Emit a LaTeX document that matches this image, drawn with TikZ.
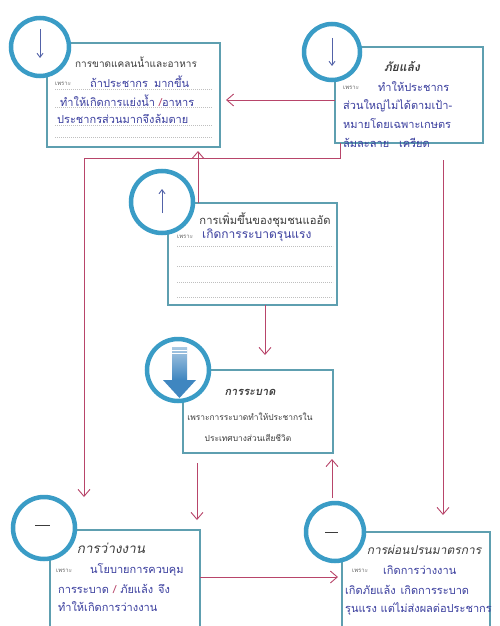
\documentclass[tikz,border=0pt]{standalone}
\usepackage{fontspec}
\usetikzlibrary{arrows.meta,calc}
\newfontfamily\thai[Script=Thai]{Loma}
\newfontfamily\thaisl[Script=Thai,FakeSlant=0.2]{Loma}
\definecolor{ringc}{HTML}{3A9CC6}
\definecolor{boxc}{HTML}{5E9FB0}
\definecolor{conc}{HTML}{B8456A}
\definecolor{handc}{HTML}{3A3E9E}
\definecolor{printc}{HTML}{3C3C3C}
\definecolor{iconc}{HTML}{5262A8}
\definecolor{arrowfill}{HTML}{3F86C0}
\tikzset{
  box/.style={draw=boxc, line width=2.2pt, fill=white, anchor=north west, inner sep=0pt, outer sep=0pt},
  ring/.style={circle, draw=ringc, line width=4.5pt, fill=white, inner sep=0pt, outer sep=0pt, minimum size=58pt},
  conn/.style={draw=conc, line width=0.9pt},
  arr/.style={-{Straight Barb[length=7pt,width=12pt]}},
  title/.style={font=\thai\fontsize{10}{11}\selectfont, text=printc, inner sep=0pt},
  ititle/.style={font=\thaisl\bfseries\fontsize{12}{13}\selectfont, text=printc, inner sep=0pt},
  stitle/.style={font=\thaisl\fontsize{12}{13}\selectfont, text=printc, inner sep=0pt},
  because/.style={font=\thai\fontsize{6}{7}\selectfont, text=printc!80, inner sep=0pt, anchor=west},
  hand/.style={font=\thai\fontsize{11}{12}\selectfont, text=handc, inner sep=0pt, anchor=west},
  printed/.style={font=\thai\fontsize{8.4}{9}\selectfont, text=printc, inner sep=0pt},
  dots/.style={draw=gray!50, line width=0.5pt, dash pattern=on 0.8pt off 1.2pt},
  icon/.style={draw=iconc, line width=0.9pt},
  dash icon/.style={draw=printc, line width=1pt}
}
\begin{document}
\begin{tikzpicture}[x=1pt,y=-1pt]
\useasboundingbox (0,0) rectangle (500,626);
\fill[white] (0,0) rectangle (500,626);
\clip (0,0) rectangle (500,626);

% boxes
\node[box, minimum width=173pt, minimum height=104pt] (b1) at (47,43) {};
\node[box, minimum width=148pt, minimum height=96pt] (b2) at (335,47) {};
\node[box, minimum width=169pt, minimum height=102pt] (b3) at (168,203) {};
\node[box, minimum width=150pt, minimum height=83pt] (b4) at (183,370) {};
\node[box, minimum width=150pt, minimum height=100pt] (b5) at (50,530) {};
\node[box, minimum width=148pt, minimum height=100pt] (b6) at (342,532) {};

% dotted writing lines
\draw[dots] ($(b1.north west)+(8,46)$) -- ($(b1.north east)+(-8,46)$);
\draw[dots] ($(b1.north west)+(8,64)$) -- ($(b1.north east)+(-8,64)$);
\draw[dots] ($(b1.north west)+(8,82)$) -- ($(b1.north east)+(-8,82)$);
\draw[dots] ($(b1.north west)+(8,94)$) -- ($(b1.north east)+(-8,94)$);
\draw[dots] ($(b3.north west)+(9,43)$) -- ($(b3.north east)+(-4,43)$);
\draw[dots] ($(b3.north west)+(9,63)$) -- ($(b3.north east)+(-4,63)$);
\draw[dots] ($(b3.north west)+(9,79)$) -- ($(b3.north east)+(-4,79)$);
\draw[dots] ($(b3.north west)+(9,94)$) -- ($(b3.north east)+(-4,94)$);

% connectors
\coordinate (k1) at (84,158);
\coordinate (e5) at (84,497);
\draw[conn,arr] ($(b2.north west)+(0,53)$) coordinate (s21) -- ($(s21 -| b1.east)+(6,0)$);
\draw[conn,arr] ($(b2.south west)+(5,0)$) |- (k1) -- (e5);
\draw[conn,arr] ($(b3.north west)+(30,0)$) coordinate (s31) -- ($(s31 |- b1.south)+(0,4)$);
\draw[conn,arr] ($(b3.south west)+(97,0)$) coordinate (s34) -- ($(s34 |- b4.north)+(0,-15)$);
\draw[conn,arr] ($(b4.south west)+(14,10)$) coordinate (s45) -- ($(s45 |- b5.north)+(0,-10)$);
\draw[conn,arr] ($(b2.south west)+(108,17)$) coordinate (s26) -- ($(s26 |- b6.north)+(0,-17)$);
\draw[conn,arr] ($(b5.north east)+(0,47)$) coordinate (s56) -- ($(s56 -| b6.west)+(-4,0)$);

% rings
\node[ring] (c1) at (40,47) {};
\node[ring, minimum size=56pt] (c2) at (332,52) {};
\node[ring, minimum size=62pt] (c3) at (162,202) {};
\node[ring, minimum size=62pt] (c4) at (178,370) {};
\node[ring, minimum size=62pt] (c5) at (44,528) {};
\node[ring] (c6) at (335,532) {};
\draw[conn,arr] ($(c6.north)+(-3,-5)$) coordinate (s64) -- ($(s64 |- b4.south)+(0,6)$);

% icons
\draw[icon,-{Straight Barb[length=4pt,width=6pt]}] ($(c1.center)+(0,-18)$) -- ($(c1.center)+(0,11)$);
\draw[icon,-{Straight Barb[length=4pt,width=6pt]}] ($(c2.center)+(0,-14)$) -- ($(c2.center)+(0,14)$);
\draw[icon,-{Straight Barb[length=4pt,width=6pt]}] ($(c3.center)+(0,11)$) -- ($(c3.center)+(0,-13)$);
\shade[top color=arrowfill!45, bottom color=arrowfill] ($(c4.center)+(-6,-23)$) rectangle ($(c4.center)+(9,10)$);
\draw[white, line width=0.8pt] ($(c4.center)+(-6,-20)$) -- ($(c4.center)+(9,-20)$);
\draw[white, line width=0.8pt] ($(c4.center)+(-6,-17)$) -- ($(c4.center)+(9,-17)$);
\fill[arrowfill] ($(c4.center)+(-15,10)$) -- ($(c4.center)+(18,10)$) -- ($(c4.center)+(1.5,28)$) -- cycle;
\draw[dash icon] ($(c5.center)+(-9,-3)$) -- ($(c5.center)+(6,-3)$);
\draw[dash icon] ($(c6.center)+(-10,0)$) -- ($(c6.center)+(3,0)$);

% box 1 texts
\node[title] (t1) at (136,62) {การขาดแคลนน้ำและอาหาร};
\node[because] (w1) at (55,84) {เพราะ};
\node[hand] (h1a) at (90,82) {ถ้าประชากร\hspace{6pt}มากขึ้น};
\node[hand] (h1b) at (60,101) {ทำให้เกิดการแย่งน้ำ {\color{conc}/}อาหาร};
\node[hand] (h1c) at (57,119) {ประชากรส่วนมากจึงล้มตาย};

% box 2 texts
\node[ititle] (t2) at (402,67) {ภัยแล้ง};
\node[because] (w2) at (343,88) {เพราะ};
\node[hand] (h2a) at (378,87) {ทำให้ประชากร};
\node[hand] (h2b) at (343,106) {ส่วนใหญ่ไม่ได้ตามเป้า-};
\node[hand] (h2c) at (343,124) {หมายโดยเฉพาะเกษตร};
\node[hand] (h2d) at (343,143) {ล้มละลาย\hspace{10pt}เครียด};

% box 3 texts
\node[title, font=\thai\fontsize{11.2}{12}\selectfont] (t3) at (265,220) {การเพิ่มขึ้นของชุมชนแออัด};
\node[because] (w3) at (177,237) {เพราะ};
\node[hand, font=\thai\fontsize{12}{13}\selectfont] (h3) at (202,235) {เกิดการระบาดรุนแรง};

% box 4 texts
\node[ititle, font=\thaisl\bfseries\fontsize{11}{12}\selectfont] (t4) at (250,392) {การระบาด};
\node[printed] (l4a) at (250,417) {เพราะการระบาดทำให้ประชากรใน};
\node[printed] (l4b) at (248,438) {ประเทศบางส่วนเสียชีวิต};

% box 5 texts
\node[stitle, font=\thaisl\fontsize{13.5}{14}\selectfont] (t5) at (111,548) {การว่างงาน};
\node[because] (w5) at (56,571) {เพราะ};
\node[hand] (h5a) at (90,570) {นโยบายการควบคุม};
\node[hand] (h5b) at (58,589) {การระบาด\hspace{4pt}{\color{conc}/}\hspace{4pt}ภัยแล้ง\hspace{5pt}จึง};
\node[hand] (h5c) at (58,607) {ทำให้เกิดการว่างงาน};

% box 6 texts
\node[stitle] (t6) at (424,550) {การผ่อนปรนมาตรการ};
\node[because] (w6) at (352,571) {เพราะ};
\node[hand] (h6a) at (383,570) {เกิดการว่างงาน};
\node[hand] (h6b) at (345,590) {เกิดภัยแล้ง\hspace{5pt}เกิดการระบาด};
\node[hand] (h6c) at (345,609) {รุนแรง แต่ไม่ส่งผลต่อประชากร};
\end{tikzpicture}
\end{document}
